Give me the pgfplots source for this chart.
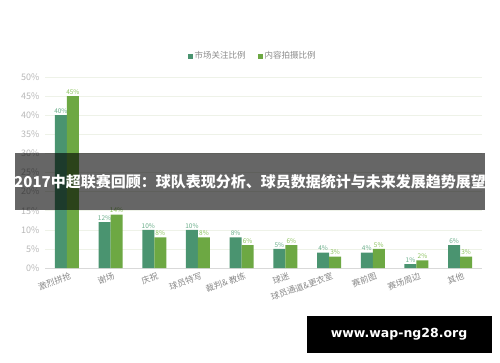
\documentclass[border=0pt]{standalone}
\usepackage{fontspec}
\setmainfont{Noto Sans CJK SC}
\newfontfamily\wmfont{DejaVu Sans}
\usepackage{pgfplots}
\pgfplotsset{compat=1.18}
\definecolor{cA}{HTML}{4A9470}
\definecolor{cB}{HTML}{6DA843}
\definecolor{lA}{HTML}{6AAE8A}
\definecolor{lB}{HTML}{8CC35F}
\definecolor{tickgray}{HTML}{B8B8B8}
\definecolor{xgray}{HTML}{8A8A8A}
\definecolor{gridc}{HTML}{EEF2E8}
\begin{document}
\begin{tikzpicture}[x=1pt,y=1pt]
\path[use as bounding box, fill=white] (0,0) rectangle (500,362);
\begin{axis}[
  at={(45pt,94pt)}, anchor=south west,
  scale only axis, width=437pt, height=191pt,
  ybar=0pt, bar width=12pt,
  xmin=-0.5, xmax=9.5, ymin=0, ymax=50,
  xtick={0,...,9},
  xticklabels={激烈拼抢,谢场,庆祝,球员特写,裁判\& 教练,球迷,球员通道\&更衣室,赛前图,赛场周边,其他},
  xticklabel style={rotate=20, anchor=north east, font=\fontsize{8.5}{9}\selectfont, text=xgray, inner sep=1pt, xshift=2pt, yshift=-3pt},
  ytick={0,5,...,50},
  yticklabel={\pgfmathprintnumber{\tick}\%},
  yticklabel style={font=\fontsize{9}{10}\selectfont, text=tickgray, xshift=-2pt},
  /pgf/number format/assume math mode=true,
  ymajorgrids, grid style={gridc, line width=0.6pt},
  axis x line*=bottom,
  axis y line*=left,
  x axis line style={draw=gray!30, line width=0.8pt, -},
  y axis line style={draw=none},
  major tick length=0pt,
  tick style={draw=none},
  nodes near coords={\pgfmathprintnumber{\pgfplotspointmeta}\%},
  every node near coord/.append style={font=\fontsize{6.5}{7}\selectfont, inner sep=1.5pt},
  legend columns=2,
  legend style={at={(0.475,1)}, anchor=center, yshift=21pt, draw=none, fill=none,
    font=\fontsize{8.5}{9}\selectfont, text=xgray,
    /tikz/every even column/.append style={column sep=10pt}},
  legend image code/.code={\fill[#1] (0pt,-2.5pt) rectangle (5pt,2.5pt);},
  clip=false,
]
\addplot[fill=cA, draw=none, every node near coord/.append style={text=lA}] coordinates {(0,40) (1,12) (2,10) (3,10) (4,8) (5,5) (6,4) (7,4) (8,1) (9,6)};
\addplot[fill=cB, draw=none, every node near coord/.append style={text=lB}] coordinates {(0,45) (1,14) (2,8) (3,8) (4,6) (5,6) (6,3) (7,5) (8,2) (9,3)};
\legend{市场关注比例,内容拍摄比例}
\end{axis}
\fill[black, opacity=0.6] (15,152) rectangle (485,209);
\node[text=white, font=\fontsize{15}{16}\selectfont\bfseries] at (250,180) {2017中超联赛回顾：球队表现分析、球员数据统计与未来发展趋势展望};
\fill[black] (307,9) rectangle (492,46);
\node[text=white, font=\wmfont\fontsize{12.5}{13}\selectfont\bfseries] at (399,27.5) {www.wap-ng28.org};
\end{tikzpicture}
\end{document}
